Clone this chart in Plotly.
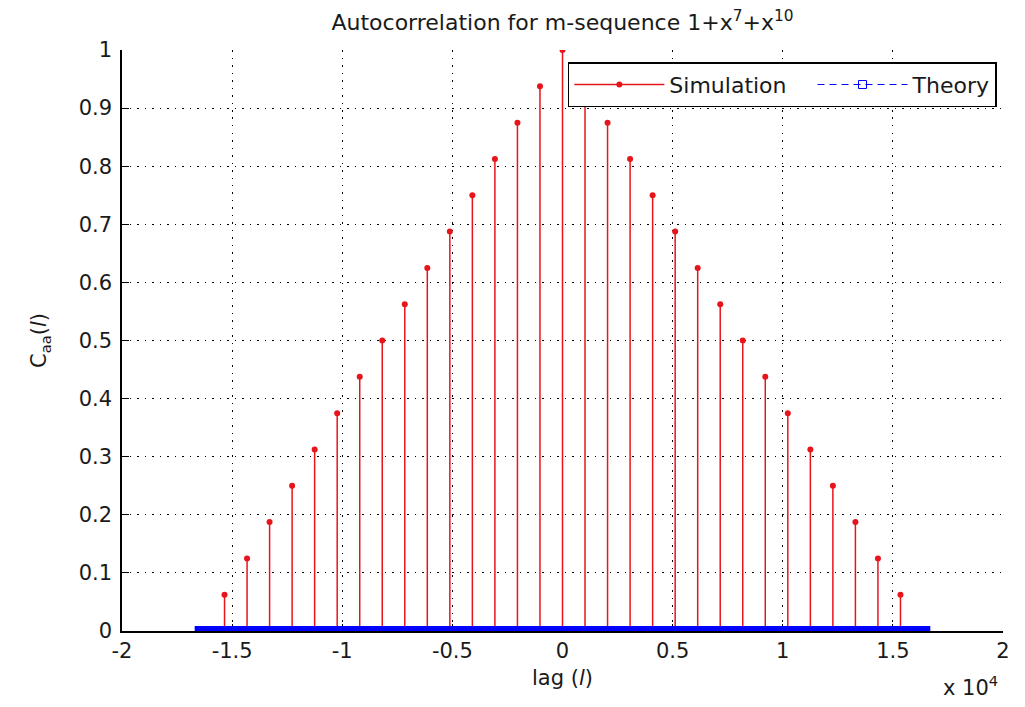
import plotly.graph_objects as go

# lag values (samples) and simulated autocorrelation
lags = [-15345, -14322, -13299, -12276, -11253, -10230, -9207, -8184, -7161, -6138,
        -5115, -4092, -3069, -2046, -1023, 0, 1023, 2046, 3069, 4092, 5115, 6138,
        7161, 8184, 9207, 10230, 11253, 12276, 13299, 14322, 15345]
sim_vals = [0.0625, 0.125, 0.1875, 0.25, 0.3125, 0.375, 0.4375, 0.5, 0.5625, 0.625,
            0.6875, 0.75, 0.8125, 0.875, 0.9375, 1.0, 0.9375, 0.875, 0.8125, 0.75,
            0.6875, 0.625, 0.5625, 0.5, 0.4375, 0.375, 0.3125, 0.25, 0.1875, 0.125, 0.0625]

# theory curve (essentially flat near zero over the lag window)
theory_lags = [-16700, 16700]
theory_vals = [0.0, 0.0]

x_ticks = [-20000, -15000, -10000, -5000, 0, 5000, 10000, 15000, 20000]
x_ticktext = ['-2', '-1.5', '-1', '-0.5', '0', '0.5', '1', '1.5', '2']
y_ticks = [0, 0.1, 0.2, 0.3, 0.4, 0.5, 0.6, 0.7, 0.8, 0.9, 1]
y_ticktext = ['0', '0.1', '0.2', '0.3', '0.4', '0.5', '0.6', '0.7', '0.8', '0.9', '1']

RED = '#e8141c'
BLUE = '#0000ff'
FONT = 'DejaVu Sans, Arial, sans-serif'
TXT = '#1a1a1a'

stem_x, stem_y = [], []
for lx, v in zip(lags, sim_vals):
    stem_x += [lx, lx, None]
    stem_y += [0, v, None]

fig = go.Figure()
fig.add_trace(go.Scatter(x=stem_x, y=stem_y, mode='lines',
                         line=dict(color=RED, width=1.5), showlegend=False,
                         hoverinfo='skip'))
fig.add_trace(go.Scatter(x=lags, y=sim_vals, mode='markers',
                         marker=dict(color=RED, size=6), showlegend=False))
fig.add_trace(go.Scatter(x=theory_lags, y=theory_vals, mode='lines',
                         line=dict(color=BLUE, width=10), showlegend=False))
# legend entries
fig.add_trace(go.Scatter(x=[None], y=[None], mode='lines+markers',
                         name='Simulation\u00a0\u00a0\u00a0',
                         line=dict(color=RED, width=1.5),
                         marker=dict(color=RED, size=6)))
fig.add_trace(go.Scatter(x=[None], y=[None], mode='lines+markers', name='Theory',
                         line=dict(color=BLUE, width=1.2, dash='7px,5px'),
                         marker=dict(color=BLUE, size=8, symbol='square-open')))

GRID_DASH = '1.5px,6px'

fig.update_layout(
    width=1017, height=699,
    margin=dict(l=114, r=22, t=42, b=76),
    paper_bgcolor='white', plot_bgcolor='white',
    font=dict(family=FONT, size=21, color=TXT),
    title=dict(text='Autocorrelation for m-sequence 1+x<sup>7</sup>+x<sup>10</sup>',
               xref='paper', x=0.5, xanchor='center', y=0.99, yanchor='top',
               font=dict(size=22, family=FONT, color=TXT)),
    showlegend=True,
    legend=dict(orientation='h', x=0.993, xanchor='right', y=0.979, yanchor='top',
                bordercolor='black', borderwidth=1.5, bgcolor='white',
                font=dict(size=22, family=FONT, color=TXT),
                itemwidth=90, tracegroupgap=0),
    xaxis=dict(range=[-20000, 20000], tickvals=x_ticks, ticktext=x_ticktext,
               showgrid=True, gridcolor='black', griddash=GRID_DASH, gridwidth=1,
               showline=True, linecolor='black', linewidth=1.5,
               ticks='inside', ticklen=7, tickcolor='black', zeroline=False,
               automargin=False, tickfont=dict(size=21),
               title=dict(text='lag (<i>l</i>)', standoff=8, font=dict(size=21)),
               layer='below traces'),
    yaxis=dict(range=[0, 1], tickvals=y_ticks, ticktext=y_ticktext,
               showgrid=True, gridcolor='black', griddash=GRID_DASH, gridwidth=1,
               showline=True, linecolor='black', linewidth=1.5,
               ticks='inside', ticklen=7, tickcolor='black', zeroline=False,
               automargin=False, ticklabelstandoff=4, tickfont=dict(size=21),
               title=dict(text='C<sub>aa</sub>(<i>l</i>)', standoff=26, font=dict(size=21)),
               layer='below traces'),
    annotations=[dict(text='x 10<sup>4</sup>', xref='paper', yref='paper',
                      x=0.9966, y=-0.122, xanchor='right', yanchor='bottom',
                      showarrow=False, font=dict(size=21, family=FONT, color=TXT))],
)

fig.write_html('out.html')
